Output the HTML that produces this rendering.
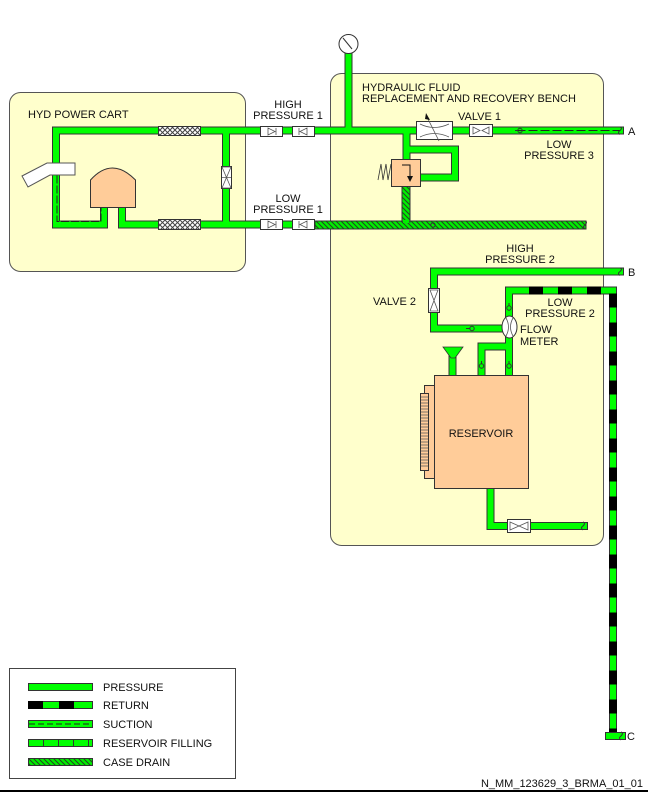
<!DOCTYPE html>
<html><head><meta charset="utf-8"><style>
html,body{margin:0;padding:0;background:#fff}
svg{display:block}
text{font-family:"Liberation Sans",sans-serif;font-size:11px;fill:#111}
</style></head><body>
<svg width="648" height="792" viewBox="0 0 648 792" xmlns="http://www.w3.org/2000/svg">
<defs>
<pattern id="hx" width="5" height="5" patternUnits="userSpaceOnUse">
<rect width="5" height="5" fill="#fff"/>
<path d="M0,0L5,5M5,0L0,5" stroke="#444" stroke-width="1"/>
</pattern>
<pattern id="cd" width="5" height="5" patternUnits="userSpaceOnUse">
<rect width="5" height="5" fill="#00ee00"/>
<path d="M-1,-1L6,6M-1,4L1,6M4,-1L6,1" stroke="#224422" stroke-width="1"/>
</pattern>
</defs>

<!-- boxes -->
<rect x="9.5" y="92.5" width="236" height="179" rx="11" fill="#ffffcc" stroke="#555"/>
<rect x="330.5" y="73.5" width="273" height="472" rx="11" fill="#ffffcc" stroke="#555"/>

<g fill="none" stroke-linejoin="miter" stroke-linecap="square">
<!-- pressure pipes outlines -->
<g stroke="#333" stroke-width="8">
<path d="M56,163 V130.5 H330 H416 M453,130.5 H469 M493,130.5 H620"/>
<path d="M56,170 V224.5 H104 V207"/>
<path d="M122,207 V224.5 H315"/>
<path d="M226,130.5 V224.5"/>
<path d="M348.5,54 V130.5"/>
<path d="M406.5,130.5 V159 M406.5,149.5 H455 V177.5 H421"/>
<path d="M620,271.5 H434 V328.5 H503"/>
<path d="M509,338 V375 M509,346.5 H481.5 V375"/>
<path d="M452.5,358 V375"/>
<path d="M490.5,489 V526 H584"/>
</g>
<g stroke="#00ff00" stroke-width="6">
<path d="M56,163 V130.5 H330 H416 M453,130.5 H469 M493,130.5 H620"/>
<path d="M56,170 V224.5 H104 V207"/>
<path d="M122,207 V224.5 H315"/>
<path d="M226,130.5 V224.5"/>
<path d="M348.5,54 V130.5"/>
<path d="M406.5,130.5 V159 M406.5,149.5 H455 V177.5 H421"/>
<path d="M620,271.5 H434 V328.5 H503"/>
<path d="M509,338 V375 M509,346.5 H481.5 V375"/>
<path d="M452.5,358 V375"/>
<path d="M490.5,489 V526 H584"/>
</g>
<!-- suction dashes -->
<path d="M57,176 V221.5 H101 V207" stroke="#222" stroke-width="1" stroke-dasharray="7,3"/>
<path d="M517,130.5 H620" stroke="#222" stroke-width="1" stroke-dasharray="8,4"/>
<!-- return line -->
<path d="M509,316 V290.5 H613 V735" stroke="#333" stroke-width="8"/>
<path d="M509,316 V290.5 H613 V735" stroke="#00ff00" stroke-width="6"/>
<path d="M529,290.5 H613 V736" stroke="#000" stroke-width="8" stroke-linecap="butt" stroke-dasharray="14,15"/>
<path d="M609,736 h13" stroke="#333" stroke-width="8"/>
<path d="M609,736 h13" stroke="#00ff00" stroke-width="6"/>
</g>
<!-- case drain -->
<rect x="315" y="221" width="271" height="8" fill="url(#cd)" stroke="#333"/>
<rect x="402" y="186" width="8" height="36" fill="url(#cd)" stroke="#333"/>
<rect x="403" y="220" width="6" height="3" fill="#00ee00"/>

<!-- pipe end hooks -->
<g fill="none" stroke="#333" stroke-width="1">
<path d="M620,127 q3,1 0,3.5 q-3,2 0,4"/>
<path d="M620,268 q3,1 0,3.5 q-3,2 0,4"/>
<path d="M585,221 q3,1 0,4 q-3,2 0,4"/>
<path d="M583,522 q3,1 0,4 q-3,2 0,4"/>
<path d="M621,732 q3,1 0,4 q-3,2 0,4"/>
</g>
<!-- flow direction marks -->
<g fill="none" stroke="#333" stroke-width="1">
<circle cx="520" cy="130.5" r="2.2"/><path d="M515,130.5h3"/>
<circle cx="433" cy="225" r="2.2"/>
<circle cx="472" cy="328.5" r="2.2"/><path d="M466,328.5h4"/>
<circle cx="509" cy="308" r="2.2"/><path d="M509,303v3"/>
<circle cx="509" cy="366" r="2.2"/><path d="M509,361v3"/>
<circle cx="481.5" cy="366" r="2.2"/><path d="M481.5,361v3"/>
</g>

<!-- hoses -->
<rect x="158.5" y="126.5" width="42" height="9" fill="url(#hx)" stroke="#333"/>
<rect x="158.5" y="219.5" width="42" height="10" fill="url(#hx)" stroke="#333"/>
<!-- cart valve -->
<rect x="221.5" y="166.5" width="10" height="22" fill="#fff" stroke="#333"/>
<path d="M222,167 L231,188 M231,167 L222,188 M222,167H231M222,188H231M222,177.5H231" stroke="#555" stroke-width="0.8" fill="none"/>
<!-- check valves -->
<g fill="#fff" stroke="#333">
<rect x="260.5" y="126.5" width="22" height="10"/><rect x="292.5" y="126.5" width="22" height="10"/>
<rect x="260.5" y="219.5" width="22" height="10"/><rect x="292.5" y="219.5" width="22" height="10"/>
</g>
<g fill="none" stroke="#555" stroke-width="0.8">
<path d="M268,128v7l7,-3.5z M276,128v7 M307,128v7l-7,-3.5z M299,128v7"/>
<path d="M268,221v7l7,-3.5z M276,221v7 M307,221v7l-7,-3.5z M299,221v7"/>
</g>
<!-- nozzle -->
<path d="M22,176 L47,163 H75 V175 H50 L28,187 Z" fill="#fff" stroke="#555"/>
<!-- pump -->
<path d="M90.5,207.5 V180 Q112,156 135.5,180 V207.5 Z" fill="#ffcc99" stroke="#333"/>

<!-- gauge -->
<circle cx="348.5" cy="44" r="9.5" fill="#fff" stroke="#333"/>
<path d="M343,38 L352,49" stroke="#333"/>
<!-- flow control -->
<rect x="416.5" y="121.5" width="36" height="18" fill="#fff" stroke="#333"/>
<path d="M420,124 Q434,131 449,124 M420,137 Q434,130 449,137 M427,117 L439,141" fill="none" stroke="#555" stroke-width="0.8"/>
<path d="M426,113 L430,120 L425,119 Z" fill="#111"/>
<!-- valve1 -->
<rect x="469.5" y="124.5" width="23" height="12" fill="#fff" stroke="#333"/>
<path d="M473,127v7l7,-3.5z M489,127v7l-7,-3.5z" fill="none" stroke="#555" stroke-width="0.8"/>
<!-- relief valve -->
<rect x="391.5" y="159.5" width="29" height="27" fill="#ffcc99" stroke="#333"/>
<path d="M402,165 H410 V178" fill="none" stroke="#111"/>
<path d="M407,176 L410,182 L413,176 Z" fill="#111"/>
<path d="M391,164 L388,180 L386,164 L383,180 L381,164 L378,180" fill="none" stroke="#333" stroke-width="0.8"/>
<!-- valve2 -->
<rect x="428.5" y="288.5" width="11" height="24" fill="#fff" stroke="#333"/>
<path d="M430,290 H438 L430,311 H438 Z" fill="none" stroke="#555" stroke-width="0.8"/>
<!-- flow meter -->
<ellipse cx="509.5" cy="327" rx="7.5" ry="11" fill="#fff" stroke="#333"/>
<path d="M506,318 Q511,327 506,336 M513,318 Q508,327 513,336" fill="none" stroke="#555" stroke-width="0.8"/>
<!-- funnel -->
<path d="M443,347 H463 L455,358 H451 Z" fill="#00ff00" stroke="#333" stroke-width="0.8"/>
<!-- reservoir -->
<rect x="424.5" y="385.5" width="12" height="93" fill="#ffcc99" stroke="#333"/>
<rect x="420.5" y="393.5" width="8" height="77" fill="#ffcc99" stroke="#333"/>
<path d="M421,397h7M421,400h7M421,403h7M421,406h7M421,409h7M421,412h7M421,415h7M421,418h7M421,421h7M421,424h7M421,427h7M421,430h7M421,433h7M421,436h7M421,439h7M421,442h7M421,445h7M421,448h7M421,451h7M421,454h7M421,457h7M421,460h7M421,463h7M421,466h7" stroke="#555" stroke-width="0.7"/>
<rect x="434.5" y="375.5" width="94" height="113" fill="#ffcc99" stroke="#333"/>
<!-- bottom valve -->
<rect x="507.5" y="519.5" width="23" height="13" fill="#fff" stroke="#333"/>
<path d="M510,522 V530 L528,522 V530 Z" fill="none" stroke="#555" stroke-width="0.8"/>

<!-- labels -->
<text x="28" y="118">HYD POWER CART</text>
<text x="288" y="108" text-anchor="middle">HIGH</text>
<text x="288" y="119" text-anchor="middle">PRESSURE 1</text>
<text x="288" y="202" text-anchor="middle">LOW</text>
<text x="288" y="213" text-anchor="middle">PRESSURE 1</text>
<text x="362" y="91">HYDRAULIC FLUID</text>
<text x="362" y="102">REPLACEMENT AND RECOVERY BENCH</text>
<text x="458" y="120">VALVE 1</text>
<text x="628" y="135">A</text>
<text x="559" y="148" text-anchor="middle">LOW</text>
<text x="559" y="159" text-anchor="middle">PRESSURE 3</text>
<text x="520" y="252" text-anchor="middle">HIGH</text>
<text x="520" y="263" text-anchor="middle">PRESSURE 2</text>
<text x="628" y="276">B</text>
<text x="373" y="305">VALVE 2</text>
<text x="560" y="306" text-anchor="middle">LOW</text>
<text x="560" y="317" text-anchor="middle">PRESSURE 2</text>
<text x="520" y="333">FLOW</text>
<text x="520" y="345">METER</text>
<text x="481" y="437" text-anchor="middle">RESERVOIR</text>
<text x="627" y="740" font-size="10">C</text>

<!-- legend -->
<rect x="9.5" y="668.5" width="226" height="110" fill="#fff" stroke="#444"/>
<rect x="28.5" y="683.5" width="64" height="7" fill="#00ff00" stroke="#333"/>
<rect x="28.5" y="701.5" width="64" height="7" fill="#00ff00" stroke="#333"/>
<rect x="28" y="701" width="15" height="8" fill="#000"/><rect x="59" y="701" width="15" height="8" fill="#000"/>
<rect x="28.5" y="720.5" width="64" height="7" fill="#00ff00" stroke="#333"/>
<path d="M29,724H92" stroke="#222" stroke-dasharray="6,3"/>
<rect x="28.5" y="739.5" width="64" height="7" fill="#00ff00" stroke="#333"/>
<path d="M43.5,740v7M58.5,740v7M73.5,740v7M88.5,740v7" stroke="#333"/>
<rect x="28.5" y="758.5" width="64" height="7" fill="url(#cd)" stroke="#333"/>
<text x="103" y="691">PRESSURE</text>
<text x="103" y="709">RETURN</text>
<text x="103" y="728">SUCTION</text>
<text x="103" y="747">RESERVOIR FILLING</text>
<text x="103" y="766">CASE DRAIN</text>

<text x="643" y="787" text-anchor="end" font-size="9">N_MM_123629_3_BRMA_01_01</text>
<rect x="0" y="790" width="648" height="2" fill="#000"/>
</svg>
</body></html>
